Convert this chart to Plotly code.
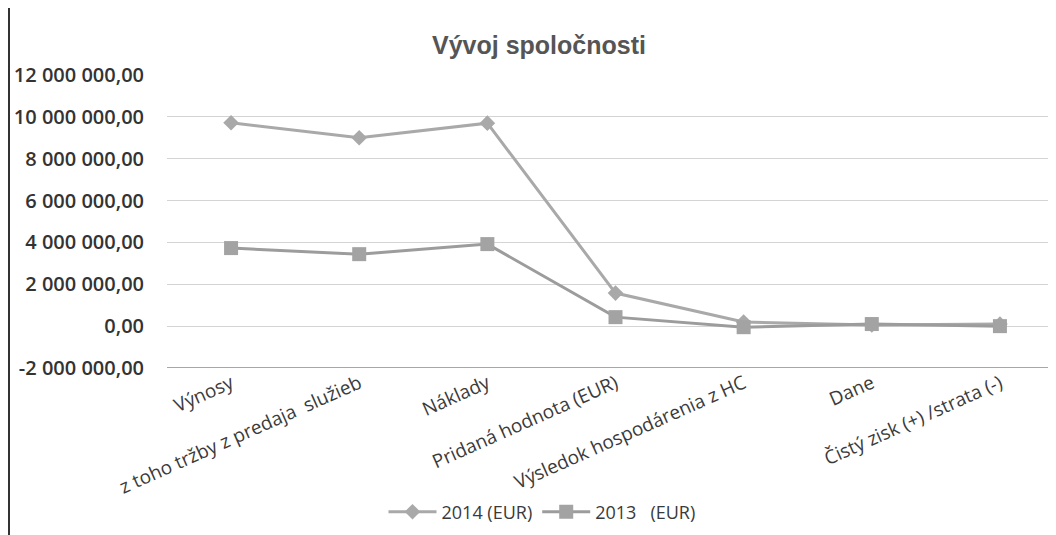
import plotly.graph_objects as go

categories = ["Výnosy", "z toho tržby z predaja  služieb", "Náklady", "Pridaná hodnota (EUR)",
              "Výsledok hospodárenia z HC", "Dane", "Čistý zisk (+) /strata (-)"]
values_2014 = [9720000, 9000000, 9700000, 1580000, 200000, 60000, 100000]
values_2013 = [3730000, 3440000, 3920000, 430000, -50000, 100000, 0]
y_tickvals = [-2000000, 0, 2000000, 4000000, 6000000, 8000000, 10000000, 12000000]
y_ticktext = ["-2 000 000,00", "0,00", "2 000 000,00", "4 000 000,00", "6 000 000,00",
              "8 000 000,00", "10 000 000,00", "12 000 000,00"]

FONT = "Open Sans, Liberation Sans, sans-serif"
W, H = 1056, 535
L, T, B = 159, 67, 175
PW, PH = W - L, H - T - B

fig = go.Figure()
fig.add_trace(go.Scatter(x=categories, y=values_2014, name="2014 (EUR)", mode="lines+markers",
                         line=dict(color="#a9a9a9", width=3),
                         marker=dict(symbol="diamond", size=12, color="#a9a9a9")))
fig.add_trace(go.Scatter(x=categories, y=values_2013, name="2013   (EUR)", mode="lines+markers",
                         line=dict(color="#9c9c9c", width=3),
                         marker=dict(symbol="square", size=14, color="#a3a3a3")))

fig.update_layout(
    width=W, height=H,
    paper_bgcolor="white", plot_bgcolor="white",
    margin=dict(l=L, r=0, t=T, b=B, autoexpand=False),
    font=dict(family=FONT, color="#3a3a3a"),
    title=dict(text="<b>Vývoj spoločnosti</b>", x=531/W, xref="container", xanchor="center",
               y=1-37/H, yref="container", yanchor="middle",
               font=dict(size=25, color="#555555", family="Liberation Sans, Arial, sans-serif")),
    showlegend=True,
    legend=dict(orientation="h", xref="container", x=534/W, xanchor="center",
                yref="container", y=1-504/H, yanchor="middle", itemwidth=48,
                font=dict(size=18, color="#3a3a3a", family=FONT)),
    xaxis=dict(type="category", range=[-0.5, 6.5], showgrid=False, tickangle=-24,
               tickfont=dict(size=19, color="#3a3a3a"), ticks="", showline=False,
               automargin=False),
    yaxis=dict(range=[-2000000, 12000000], tickvals=y_tickvals, ticktext=y_ticktext,
               showgrid=True, gridcolor="#d4d4d4", gridwidth=1, zeroline=False,
               tickfont=dict(size=20, color="#333333", weight=600), ticks="",
               ticklabelstandoff=22, automargin=False),
    shapes=[
        dict(type="line", xref="paper", yref="y", x0=0, x1=1, y0=-2000000, y1=-2000000,
             line=dict(color="#8a8a8a", width=1.5)),
        dict(type="line", xref="paper", yref="paper", x0=-(L - 1)/PW, x1=-(L - 1)/PW,
             y0=-B/PH, y1=1 + T/PH, line=dict(color="#333333", width=2)),
    ],
)
fig.write_html("out.html")
